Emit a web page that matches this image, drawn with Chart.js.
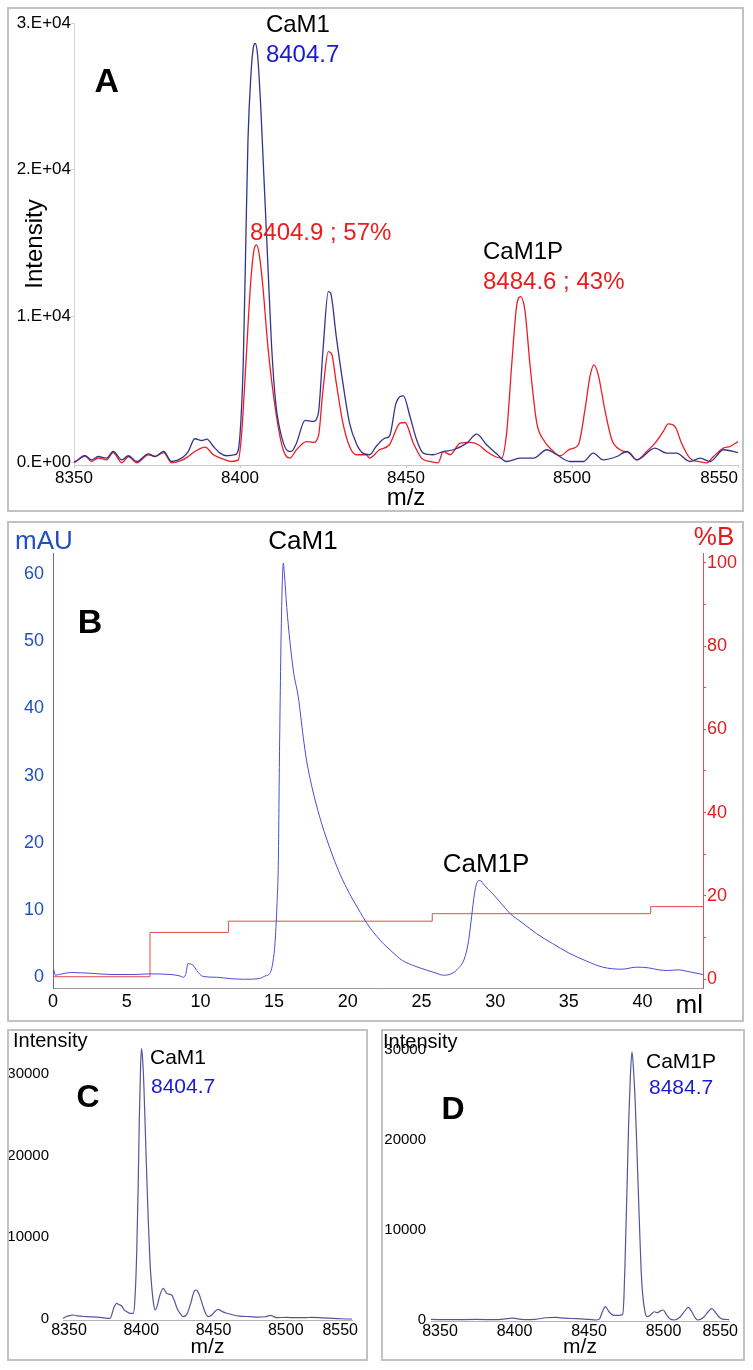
<!DOCTYPE html>
<html>
<head>
<meta charset="utf-8">
<script src="https://cdn.jsdelivr.net/npm/chart.js@4.4.1/dist/chart.umd.min.js"></script>
<style>
  body { margin: 0; background: #fff; width: 753px; height: 1370px; position: relative; overflow: hidden; }
  .box { position: absolute; border: 2px solid #c2c2c2; box-sizing: border-box; }
  canvas { position: absolute; }
</style>
</head>
<body>
<div class="box" style="left:7px;top:7px;width:737px;height:505px"></div>
<div class="box" style="left:7px;top:521px;width:737px;height:501px"></div>
<div class="box" style="left:7px;top:1029px;width:361px;height:332px"></div>
<div class="box" style="left:381px;top:1029px;width:364px;height:332px"></div>
<canvas id="chartA" width="733" height="501" style="left:9px;top:9px;width:733px;height:501px"></canvas>
<canvas id="chartB" width="733" height="497" style="left:9px;top:523px;width:733px;height:497px"></canvas>
<canvas id="chartC" width="366" height="328" style="left:9px;top:1031px;width:366px;height:328px"></canvas>
<canvas id="chartD" width="360" height="328" style="left:383px;top:1031px;width:360px;height:328px"></canvas>
<script>
// panel A: MALDI spectra of the mixture, m/z vs intensity
const mzA_cam1 = [8350, 8350.3, 8353.3, 8355.3, 8357.3, 8359.8, 8361.8, 8364.4, 8366.4, 8368.9, 8372.4, 8374.4, 8377, 8379.4, 8382.4, 8384.4, 8386.4, 8388.5, 8390, 8392, 8394, 8396, 8398.5, 8399.5, 8400.3, 8401, 8401.7, 8402.4, 8403.3, 8404, 8404.6, 8405.3, 8406.2, 8407.2, 8408.3, 8409.5, 8410.8, 8412.5, 8414.5, 8415.5, 8417, 8419.6, 8422, 8423.6, 8425, 8426.6, 8427.3, 8429, 8431, 8433, 8435, 8437, 8439, 8441, 8443.7, 8445, 8447, 8449.2, 8451.2, 8453.2, 8455.2, 8458.2, 8461.2, 8464.3, 8468.3, 8471.3, 8474.3, 8477.3, 8480.3, 8484.3, 8488.4, 8492.4, 8495.4, 8499.4, 8503.4, 8506.4, 8509.4, 8513.5, 8516.5, 8519.5, 8525, 8528.5, 8531.5, 8535.5, 8538.6, 8541.6, 8545.6, 8550];
const intA_cam1 = [100, 90, 480, 200, 430, 320, 770, 200, 480, 90, 610, 430, 770, 90, 320, 770, 1640, 1520, 1610, 1110, 660, 480, 550, 890, 3000, 7000, 14500, 22000, 26500, 28300, 28600, 27800, 24500, 19500, 14000, 8000, 4000, 1800, 800, 780, 1340, 2890, 2820, 3390, 7700, 11680, 11560, 8610, 5430, 2700, 1340, 660, 550, 1110, 1680, 1800, 4070, 4570, 3160, 1570, 660, 550, 770, 890, 1340, 1950, 1230, 610, 90, 320, 320, 890, 550, 90, 90, 660, 200, 430, 770, 200, 1000, 660, 660, 90, 320, 90, 890, 700];
const mzA_mix = [8350, 8353.3, 8355.3, 8357.3, 8359.8, 8361.8, 8364.4, 8366.4, 8368.9, 8372.4, 8374.4, 8377, 8379.4, 8382.4, 8384.4, 8386.4, 8389.5, 8392, 8395, 8397.5, 8399.5, 8400.5, 8401.2, 8402, 8403.2, 8404.2, 8405, 8405.8, 8406.8, 8408.5, 8411, 8413, 8415, 8417, 8420, 8422, 8423.6, 8425, 8426.6, 8427.6, 8429, 8431, 8433, 8435, 8438, 8439, 8442, 8445, 8448.2, 8449.7, 8452.2, 8454.7, 8457.2, 8459.7, 8461.2, 8463.3, 8466.3, 8469.3, 8471.8, 8474.3, 8476.8, 8478.8, 8480.3, 8481.8, 8483.3, 8484.5, 8485.8, 8487.4, 8489.4, 8491.4, 8493.9, 8496.4, 8499.4, 8501.9, 8503.9, 8505.4, 8506.6, 8507.9, 8509.9, 8512, 8514.5, 8517.5, 8519.5, 8522.5, 8525, 8527.5, 8529, 8531, 8533, 8535.5, 8538, 8540.6, 8542.6, 8545.6, 8547.6, 8550];
const intA_mix = [0, 480, 90, 320, 200, 700, 0, 430, 0, 550, 430, 700, 0, 160, 430, 770, 1070, 550, 250, 90, 200, 2000, 4500, 7700, 12250, 14500, 14860, 14200, 12250, 7700, 3160, 890, 320, 890, 1450, 1390, 1800, 4980, 7590, 7430, 5430, 2700, 1110, 550, 550, 320, 890, 1230, 2700, 2750, 1340, 320, 90, 0, 770, 550, 1340, 1390, 1230, 770, 430, 320, 2020, 6570, 10660, 11340, 10430, 6570, 2700, 1570, 890, 480, 930, 1230, 3610, 5880, 6680, 6000, 3610, 1570, 890, 660, 200, 770, 1340, 2140, 2660, 2480, 1340, 320, 90, 0, 430, 1000, 1110, 1450];
const ticksA_int = [0, 10000, 20000, 30000];

// panel B: ion exchange run, UV trace and %B gradient
const volB = [0, 0.05, 0.15, 0.6, 1.2, 2.5, 4, 5.5, 6.5, 8, 8.6, 8.8, 9.0, 9.15, 9.5, 9.75, 10.2, 11.1, 12, 13, 14, 14.4, 14.72, 14.9, 15.06, 15.2, 15.29, 15.36, 15.5, 15.63, 15.7, 15.86, 16.3, 16.64, 16.98, 17.2, 17.6, 18.1, 18.5, 19.0, 19.5, 20.1, 20.7, 21.3, 22.2, 23, 23.7, 24.5, 25.3, 26, 26.5, 27, 27.4, 27.95, 28.2, 28.4, 28.6, 28.75, 28.95, 29.3, 29.8, 30.4, 31.0, 31.9, 32.8, 33.9, 35.0, 36.2, 37.3, 38.6, 39.6, 40.4, 41.1, 41.7, 42.4, 43.2, 44.1];
const uvB = [0.5, 1.1, 0.3, 0.5, 0.7, 0.6, 0.4, 0.4, 0.5, 0.4, 0.2, 0, 0.4, 2.0, 1.8, 1.0, 0.1, 0, -0.2, -0.3, -0.2, 0.2, 0.6, 2, 5, 11, 17.4, 32, 53.6, 61.6, 60, 55, 45.7, 41.7, 35.7, 32.3, 28, 23.8, 21, 17.9, 15.2, 12.5, 10.2, 8.0, 5.5, 3.8, 2.5, 1.7, 1.1, 0.6, 0.3, 0.5, 1.1, 3.0, 5.5, 9, 12.5, 14, 14.4, 13.6, 12.5, 11, 9.5, 8, 6.5, 5, 3.6, 2.4, 1.5, 1.2, 1.5, 1.4, 1.1, 1.0, 1.1, 0.8, 0.4];
const volB_grad = [0, 6.58, 11.9, 25.73, 40.55, 44.1];
const pctB = [0.55, 11.2, 13.9, 15.7, 17.4, 17.4];

// panels C and D: spectra of the two pooled peaks
const mzC = [8350, 8352, 8355, 8357.2, 8360, 8366.4, 8375.6, 8382.5, 8383.5, 8385, 8387.1, 8388.5, 8390.6, 8392.5, 8394.1, 8396.5, 8398.7, 8399.8, 8401, 8402, 8402.8, 8403.7, 8404.4, 8405.2, 8406, 8407.5, 8409, 8410.2, 8411.4, 8412.6, 8413.7, 8415, 8417, 8419.4, 8420.5, 8421.7, 8423.5, 8425.2, 8427, 8429, 8431, 8433.3, 8436, 8438.5, 8440.5, 8442, 8443.5, 8444.8, 8447, 8449, 8450.6, 8453, 8455.5, 8457.5, 8460, 8463.3, 8467.9, 8472, 8479.4, 8485, 8490, 8493.7, 8495.5, 8497.9, 8505, 8510, 8518.6, 8522, 8530, 8540, 8548.6, 8550];
const intC = [100, 300, 450, 510, 400, 310, 230, 100, 400, 1300, 1930, 1800, 1610, 1100, 920, 700, 720, 2500, 8030, 16000, 24290, 31000, 33030, 31500, 28360, 20000, 12100, 7000, 3970, 2000, 1120, 1500, 2900, 3760, 3500, 3150, 3050, 2950, 2300, 1300, 720, 310, 700, 2000, 3300, 3560, 3300, 2750, 1500, 600, 310, 500, 1000, 1200, 950, 720, 510, 380, 310, 250, 300, 470, 350, 190, 220, 180, 190, 220, 150, 80, 20, 20];
const mzD = [8350, 8365, 8380, 8395, 8404.8, 8412, 8420, 8427, 8433.9, 8440, 8448, 8456, 8460.7, 8463, 8465, 8467, 8469.5, 8472, 8476, 8478.6, 8479.5, 8480.4, 8481.5, 8482.7, 8483.8, 8484.9, 8486, 8487.1, 8488.5, 8489.8, 8491, 8492, 8493.5, 8495, 8497, 8499.9, 8502, 8504, 8505.9, 8508, 8510.5, 8513.3, 8517, 8520, 8522.7, 8525, 8527, 8529, 8533, 8536, 8538.4, 8541, 8543.5, 8545.7, 8550];
const intD = [60, 40, 60, 40, 200, 50, 80, 250, 300, 200, 150, 60, 0, 100, 920, 1480, 920, 550, 510, 610, 2560, 7410, 14310, 22180, 27090, 29800, 27600, 24070, 17380, 11110, 5620, 2960, 1020, 370, 510, 920, 820, 1020, 1110, 610, 100, 0, 310, 920, 1410, 920, 310, 0, 310, 920, 1260, 820, 310, 100, 50];
const ticksCD_int = [0, 10000, 20000, 30000];

const FONT = '"Liberation Sans", Arial, Helvetica, sans-serif';
const BLUE_TXT = '#1a1ad6';
const RED_TXT = '#ec1c1c';

Chart.defaults.font.family = FONT;
Chart.defaults.color = '#000';
Chart.defaults.animation = false;

const pts = (xs, ys) => xs.map((x, i) => ({ x, y: ys[i] }));
const noPad = s => { s.paddingLeft = 0; s.paddingRight = 0; s.paddingTop = 0; s.paddingBottom = 0; };
const fixW = w => s => { s.width = w; noPad(s); };
const fixH = h => s => { s.height = h; noPad(s); };
const setTicks = vals => s => { s.ticks = vals.map(v => ({ value: v })); };
const str = v => String(v);
const noGrid = { display: false, drawTicks: false, tickLength: 0 };

// text labels placed in data units of the chart's own scales
function notes(items) {
  return {
    id: 'notes',
    afterDraw(chart) {
      const ctx = chart.ctx;
      items.forEach(n => {
        const xs = chart.scales.x, ys = chart.scales[n.axis || 'y'];
        ctx.save();
        ctx.font = n.f;
        ctx.fillStyle = n.c || '#000';
        ctx.textAlign = n.a || 'left';
        ctx.textBaseline = 'middle';
        ctx.fillText(n.t, xs.getPixelForValue(n.x), ys.getPixelForValue(n.y));
        ctx.restore();
      });
    }
  };
}

// keep the last m/z label inside the frame, like the original
const lastTickRight = {
  id: 'lastTickRight',
  beforeDraw(chart) {
    const items = chart.scales.x.getLabelItems();
    if (items.length) items[items.length - 1].options.textAlign = 'right';
  }
};

const base = {
  responsive: false,
  animation: false,
  elements: { point: { radius: 0 }, line: { cubicInterpolationMode: 'monotone' } },
  plugins: { legend: { display: false }, tooltip: { enabled: false } }
};

new Chart(document.getElementById('chartA'), {
  type: 'line',
  data: {
    datasets: [
      { data: pts(mzA_cam1, intA_cam1), borderColor: '#34348f', borderWidth: 1.3 },
      { data: pts(mzA_mix, intA_mix), borderColor: '#ee1c24', borderWidth: 1.3 }
    ]
  },
  options: {
    ...base,
    layout: { padding: { left: 0, top: 14, right: 4, bottom: 0 } },
    scales: {
      x: {
        type: 'linear', min: 8350, max: 8550, afterFit: fixH(45),
        ticks: { stepSize: 50, padding: 0, maxRotation: 0, font: { size: 17 }, callback: str },
        grid: { drawOnChartArea: false, tickLength: 3, color: '#c8c8c8' },
        border: { color: '#c8c8c8' },
        title: { display: true, text: 'm/z', font: { size: 24, lineHeight: 1 }, padding: 0 }
      },
      y: {
        min: -150, max: 30000, afterFit: fixW(65), afterBuildTicks: setTicks(ticksA_int),
        ticks: { padding: 0, font: { size: 17 },
                 callback: v => v === 0 ? '0.E+00' : (v / 10000) + '.E+04' },
        grid: { drawOnChartArea: false, tickLength: 3, color: '#d4d4d4' },
        border: { color: '#d4d4d4' },
        title: { display: true, text: 'Intensity', font: { size: 24 }, padding: { top: 12, bottom: 0 } }
      }
    }
  },
  plugins: [lastTickRight, notes([
    { t: 'A', x: 8359.9, y: 25910, f: 'bold 34px ' + FONT, a: 'center' },
    { t: 'CaM1', x: 8407.8, y: 29860, f: '24px ' + FONT },
    { t: '8404.7', x: 8407.8, y: 27820, f: '24px ' + FONT, c: BLUE_TXT },
    { t: '8404.9 ; 57%', x: 8403.0, y: 15640, f: '24px ' + FONT, c: RED_TXT },
    { t: 'CaM1P', x: 8473.2, y: 14345, f: '24px ' + FONT },
    { t: '8484.6 ; 43%', x: 8473.2, y: 12300, f: '24px ' + FONT, c: RED_TXT }
  ])]
});

new Chart(document.getElementById('chartB'), {
  type: 'line',
  data: {
    datasets: [
      { data: pts(volB, uvB), borderColor: '#4b4bd2', borderWidth: 1, yAxisID: 'y' },
      { data: pts(volB_grad, pctB), borderColor: '#e44a4a', borderWidth: 1, yAxisID: 'y2',
        stepped: 'before', cubicInterpolationMode: 'default', tension: 0 }
    ]
  },
  options: {
    ...base,
    layout: { padding: { left: 0, top: 30, right: 0, bottom: 0 } },
    scales: {
      x: {
        type: 'linear', min: 0, max: 44.1, afterFit: fixH(32),
        ticks: { stepSize: 5, includeBounds: false, padding: 3, maxRotation: 0, font: { size: 18 }, callback: str },
        grid: noGrid,
        border: { color: '#9a9a9a' },
        title: { display: true, text: 'ml', align: 'end', font: { size: 26, lineHeight: 1 }, padding: { top: 0, bottom: 1 } }
      },
      y: {
        position: 'left', min: -1.6, max: 63.1, afterFit: fixW(44),
        ticks: { stepSize: 10, includeBounds: false, padding: 9, font: { size: 18 }, color: '#2050c0', callback: str },
        grid: noGrid,
        border: { color: '#5a66dd' }
      },
      y2: {
        position: 'right', min: -2.16, max: 102.4, afterFit: fixW(39),
        ticks: { stepSize: 10, includeBounds: false, padding: 1, font: { size: 18 }, color: '#e31b1b',
                 callback: v => v % 20 === 0 ? String(v) : '' },
        grid: { drawOnChartArea: false, tickLength: 3, color: '#e85050' },
        border: { color: '#e85050' }
      }
    }
  },
  plugins: [notes([
    { t: 'B', x: 2.51, y: 52.65, f: 'bold 34px ' + FONT, a: 'center' },
    { t: 'mAU', x: -0.61, y: 64.73, f: '26px ' + FONT, a: 'center', c: '#2050c0' },
    { t: '%B', x: 44.85, y: 65.32, f: '26px ' + FONT, a: 'center', c: '#e31b1b' },
    { t: 'CaM1', x: 16.96, y: 64.73, f: '26px ' + FONT, a: 'center' },
    { t: 'CaM1P', x: 29.38, y: 16.69, f: '26px ' + FONT, a: 'center' }
  ])]
});

function smallSpectrum(id, mz, inten, o) {
  new Chart(document.getElementById(id), {
    type: 'line',
    data: { datasets: [{ data: pts(mz, inten), borderColor: '#55559c', borderWidth: 1.2 }] },
    options: {
      ...base,
      layout: { padding: { left: 0, top: 13, right: o.padRight, bottom: 0 } },
      scales: {
        x: {
          type: 'linear', min: 8350, max: 8550, afterFit: fixH(o.xH),
          ticks: { stepSize: 50, padding: 1, labelOffset: o.labelOffset, maxRotation: 0, font: { size: 16 }, callback: str },
          grid: noGrid,
          border: { color: '#b4b4b4' },
          title: { display: true, text: 'm/z', font: { size: 21, lineHeight: 1 }, padding: { top: 0, bottom: 1.5 } }
        },
        y: {
          min: o.yMin, max: o.yMax, afterFit: fixW(o.yW), afterBuildTicks: setTicks(ticksCD_int),
          ticks: { padding: o.yPad, font: { size: 15 }, callback: str },
          grid: noGrid,
          border: { display: false }
        }
      }
    },
    plugins: [lastTickRight, notes(o.notes)]
  });
}

smallSpectrum('chartC', mzC, intC, {
  padRight: 23, xH: 39, yW: 54, yPad: 14, labelOffset: 6, yMin: -100, yMax: 33600,
  notes: [
    { t: 'Intensity', x: 8315.4, y: 33850, f: '20px ' + FONT },
    { t: 'C', x: 8367.3, y: 27010, f: 'bold 32px ' + FONT, a: 'center' },
    { t: 'CaM1', x: 8410.2, y: 31890, f: '21px ' + FONT },
    { t: '8404.7', x: 8410.9, y: 28350, f: '21px ' + FONT, c: BLUE_TXT }
  ]
});

smallSpectrum('chartD', mzD, intD, {
  padRight: 14, xH: 38, yW: 48, yPad: 5, labelOffset: 9, yMin: -110, yMax: 30670,
  notes: [
    { t: 'Intensity', x: 8317.8, y: 30890, f: '20px ' + FONT },
    { t: 'D', x: 8364.8, y: 23330, f: 'bold 32px ' + FONT, a: 'center' },
    { t: 'CaM1P', x: 8494.3, y: 28670, f: '21px ' + FONT },
    { t: '8484.7', x: 8496.3, y: 25780, f: '21px ' + FONT, c: BLUE_TXT }
  ]
});
</script>
</body>
</html>
